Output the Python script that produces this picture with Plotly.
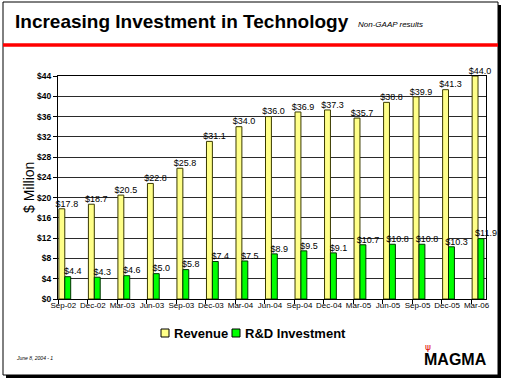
import plotly.graph_objects as go

quarters = ["Sep-02", "Dec-02", "Mar-03", "Jun-03", "Sep-03", "Dec-03", "Mar-04", "Jun-04",
            "Sep-04", "Dec-04", "Mar-05", "Jun-05", "Sep-05", "Dec-05", "Mar-06"]
revenue = [17.8, 18.7, 20.5, 22.8, 25.8, 31.1, 34.0, 36.0, 36.9, 37.3, 35.7, 38.8, 39.9, 41.3, 44.0]
rnd = [4.4, 4.3, 4.6, 5.0, 5.8, 7.4, 7.5, 8.9, 9.5, 9.1, 10.7, 10.8, 10.8, 10.3, 11.9]
series_names = ["Revenue", "R&D Investment"]
series_colors = ["#FFFF88", "#00FF00"]
y_ticks = list(range(0, 45, 4))

W, H = 506, 381
idx = list(range(len(quarters)))

def px_x(p):
    return p / W

def px_y(p):
    return 1 - p / H

NARROW = "Liberation Sans Narrow, Arial Narrow, Liberation Sans, Arial"

fig = go.Figure()
fig.add_trace(go.Bar(
    x=idx, y=revenue, name=series_names[0], offset=-0.47, width=0.2,
    marker=dict(color=series_colors[0], line=dict(color="#3a3a00", width=1)),
    xaxis="x", yaxis="y", showlegend=False))
fig.add_trace(go.Bar(
    x=idx, y=rnd, name=series_names[1], offset=-0.27, width=0.2,
    marker=dict(color=series_colors[1], line=dict(color="#003300", width=1)),
    xaxis="x", yaxis="y", showlegend=False))
fig.add_trace(go.Scatter(
    x=[i - 0.2 for i in idx], y=revenue, mode="text",
    text=[f"${v:.1f}" for v in revenue], textposition="top center",
    textfont=dict(family=NARROW, size=9, color="black"),
    showlegend=False, hoverinfo="skip", cliponaxis=False))
fig.add_trace(go.Scatter(
    x=[i + 0.0 for i in idx], y=rnd, mode="text",
    text=[f"${v:.1f}" for v in rnd], textposition="top center",
    textfont=dict(family=NARROW, size=9, color="black"),
    showlegend=False, hoverinfo="skip", cliponaxis=False))
# dummy trace on xaxis2 so its labels render
fig.add_trace(go.Scatter(x=[None], y=[None], xaxis="x2", yaxis="y", showlegend=False,
                         hoverinfo="skip"))

xdom = [px_x(58), px_x(486)]
ydom = [px_y(299), px_y(76)]

fig.update_layout(
    width=W, height=H, autosize=False,
    margin=dict(l=0, r=0, t=0, b=0),
    paper_bgcolor="white", plot_bgcolor="rgba(0,0,0,0)",
    barmode="overlay",
    xaxis=dict(domain=xdom, range=[-0.5, 14.0], tickmode="array",
               tickvals=[i - 0.5 for i in idx], showticklabels=False,
               ticks="outside", ticklen=4, tickcolor="black",
               showline=True, linecolor="black", linewidth=1, mirror=True,
               showgrid=False, zeroline=False, automargin=False),
    xaxis2=dict(domain=xdom, range=[-0.5, 14.0], overlaying="x", anchor="y", side="bottom",
                tickmode="array", tickvals=[i - 0.32 for i in idx], ticktext=quarters,
                ticks="", showline=False, showgrid=False, zeroline=False,
                tickfont=dict(family=NARROW, size=8, color="#000000"), automargin=False),
    yaxis=dict(domain=ydom, range=[0, 44], tickmode="array", tickvals=y_ticks,
               ticktext=[f"${v}" for v in y_ticks],
               ticks="outside", ticklen=4, tickcolor="black",
               tickfont=dict(family=NARROW, size=8.5, color="black", weight="bold"),
               showline=True, linecolor="black", linewidth=1, mirror=True,
               showgrid=True, gridcolor="#2a2a2a", gridwidth=1, zeroline=False,
               automargin=False),
    showlegend=False,
)

shapes = [
    dict(type="rect", xref="paper", yref="paper", x0=px_x(6), x1=px_x(501), y0=px_y(378), y1=px_y(5),
         fillcolor="black", line=dict(width=0), layer="below"),
    dict(type="rect", xref="paper", yref="paper", x0=px_x(3), x1=px_x(498), y0=px_y(375), y1=px_y(2),
         fillcolor="white", line=dict(color="black", width=1), layer="below"),
    dict(type="line", xref="paper", yref="paper", x0=px_x(3), x1=px_x(498), y0=px_y(45), y1=px_y(45),
         line=dict(color="#FF0000", width=3.5), layer="below"),
]

def note(text, x, y, size, xanchor="left", angle=0, color="black", family="Liberation Sans, Arial"):
    return dict(text=text, x=px_x(x), y=px_y(y), xref="paper", yref="paper",
                xanchor=xanchor, yanchor="middle", showarrow=False, textangle=angle,
                font=dict(family=family, size=size, color=color))

# legend (squares + names) laid out like the original slide
legend_x = [161, 232]
for name, color, lx in zip(series_names, series_colors, legend_x):
    shapes.append(dict(type="rect", xref="paper", yref="paper",
                       x0=px_x(lx), x1=px_x(lx + 8), y0=px_y(337), y1=px_y(329),
                       fillcolor=color, line=dict(color="black", width=1)))

annotations = [
    note("<b>Increasing Investment in Technology</b>", 13, 22, 19),
    note("<i>Non-GAAP results</i>", 356, 25, 8),
    note("$ Million", 29, 188, 14, xanchor="center", angle=-90),
    note("<i>June 8, 2004 - 1</i>", 14, 358, 5),
    note("<b>MAGMA</b>", 455, 359, 16, xanchor="center"),
    note("ψ", 428, 347, 9, xanchor="center", color="#E00000", family="DejaVu Sans"),
]
for name, lx in zip(series_names, legend_x):
    annotations.append(note(f"<b>{name}</b>", lx + 11, 333, 13))

fig.update_layout(shapes=shapes, annotations=annotations)

fig.write_html("out.html", config={"displayModeBar": False},
               post_script="document.body.style.margin='0';document.body.style.overflow='hidden';")
